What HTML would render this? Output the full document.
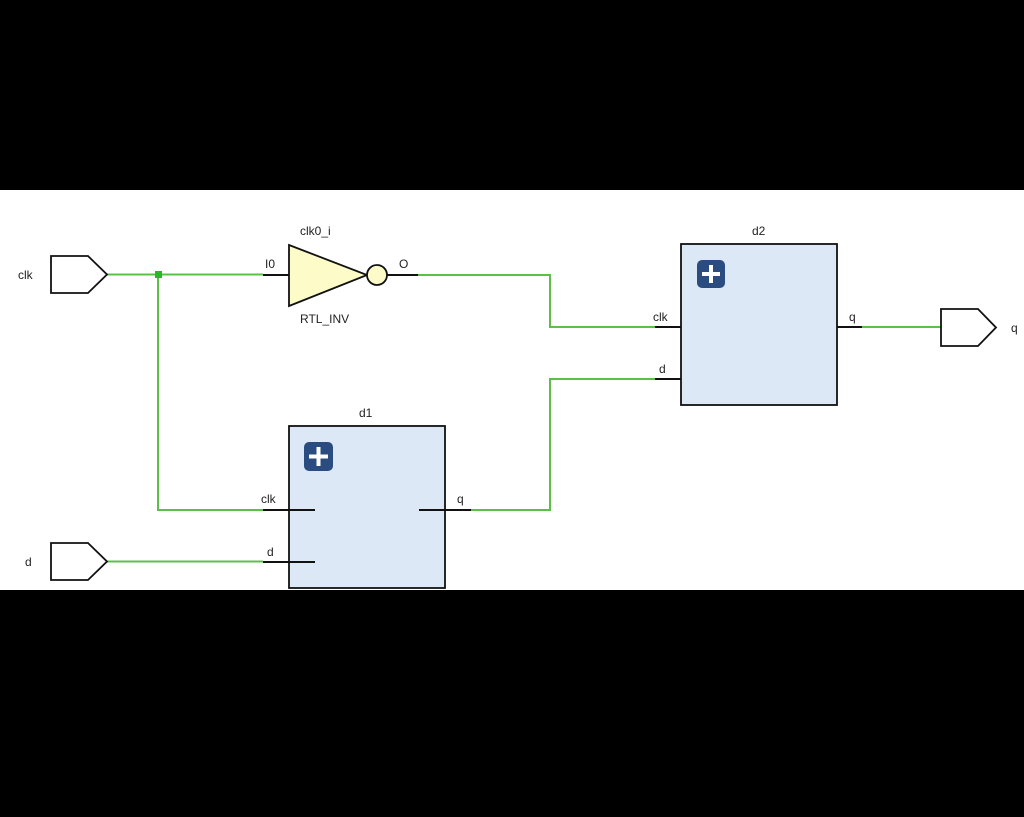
<!DOCTYPE html>
<html><head><meta charset="utf-8"><style>
html,body{margin:0;padding:0;background:#000;}
svg{display:block}
text{font-family:"Liberation Sans","DejaVu Sans",sans-serif;font-size:12px;fill:#222}
</style></head><body>
<svg width="1024" height="817" viewBox="0 0 1024 817" xmlns="http://www.w3.org/2000/svg">
<rect x="0" y="0" width="1024" height="817" fill="#000"/>
<rect x="0" y="190" width="1024" height="400" fill="#fff"/>
<g fill="none" stroke="#5cbf4a" stroke-width="2">
<polyline points="107,274.5 263,274.5"/>
<polyline points="158,274.5 158,510 263,510"/>
<polyline points="107,561.5 263,561.5"/>
<polyline points="418,275 550,275 550,327 655,327"/>
<polyline points="471,510 550,510 550,379 655,379"/>
<polyline points="862,327 941,327"/>
</g>
<rect x="155" y="271" width="7" height="7" fill="#2bb52b"/>
<g fill="none" stroke="#111" stroke-width="2">
<line x1="263" y1="275" x2="289" y2="275"/>
<line x1="387" y1="275" x2="418" y2="275"/>
<line x1="655" y1="327" x2="681" y2="327"/>
<line x1="655" y1="379" x2="681" y2="379"/>
<line x1="837" y1="327" x2="862" y2="327"/>
</g>
<polygon points="51,256 88,256 107,274.5 88,293 51,293" fill="#fff" stroke="#111" stroke-width="1.8"/>
<polygon points="51,543 88,543 107,561.5 88,580 51,580" fill="#fff" stroke="#111" stroke-width="1.8"/>
<polygon points="941,309 978,309 996,327.5 978,346 941,346" fill="#fff" stroke="#111" stroke-width="1.8"/>
<polygon points="289,245 367,275 289,306" fill="#fdfbc8" stroke="#111" stroke-width="1.8"/>
<circle cx="377" cy="275" r="10" fill="#fdfbc8" stroke="#111" stroke-width="1.8"/>
<rect x="681" y="244" width="156" height="161" fill="#dde8f7" stroke="#111" stroke-width="1.8"/>
<rect x="289" y="426" width="156" height="162" fill="#dde8f7" stroke="#111" stroke-width="1.8"/>
<g fill="none" stroke="#111" stroke-width="2">
<line x1="263" y1="510" x2="315" y2="510"/>
<line x1="263" y1="562" x2="315" y2="562"/>
<line x1="419" y1="510" x2="471" y2="510"/>
</g>
<rect x="697" y="260" width="28" height="28" rx="5" fill="#2b4c80"/>
<path d="M711 265v18M702 274h18" stroke="#fff" stroke-width="4"/>
<rect x="304" y="442" width="29" height="29" rx="5" fill="#2b4c80"/>
<path d="M318.5 447v19M309 456.5h19" stroke="#fff" stroke-width="4"/>
<text x="18" y="279">clk</text>
<text x="25" y="566">d</text>
<text x="1011" y="332">q</text>
<text x="300" y="235">clk0_i</text>
<text x="300" y="323">RTL_INV</text>
<text x="265" y="268">I0</text>
<text x="399" y="268">O</text>
<text x="752" y="235">d2</text>
<text x="359" y="417">d1</text>
<text x="653" y="321">clk</text>
<text x="659" y="373">d</text>
<text x="849" y="321">q</text>
<text x="261" y="503">clk</text>
<text x="267" y="556">d</text>
<text x="457" y="503">q</text>
</svg>
</body></html>
